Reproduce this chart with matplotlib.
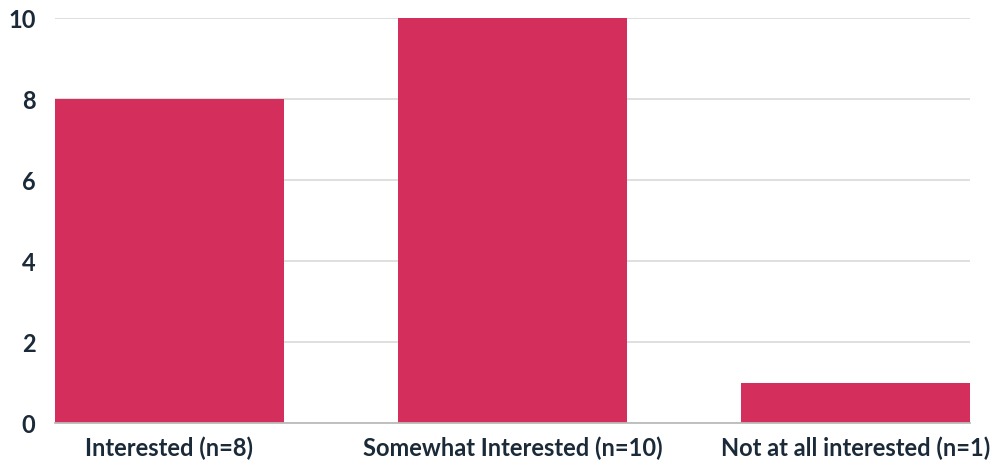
import matplotlib
matplotlib.use("Agg")
import matplotlib.pyplot as plt

categories = ["Interested (n=8)", "Somewhat Interested (n=10)", "Not at all interested (n=1)"]
counts = [8, 10, 1]
y_ticks = [0, 2, 4, 6, 8, 10]

BAR_COLOR = "#d42f5c"
TEXT_COLOR = "#1b2a38"
GRID_COLOR = "#dcdcdc"

plt.rcParams["font.family"] = ["Lato", "DejaVu Sans"]

fig = plt.figure(figsize=(9.97, 4.64), dpi=100)
ax = fig.add_axes([55 / 997, 40 / 464, 915 / 997, 405 / 464])

width = 0.667
x = list(range(len(categories)))
ax.bar(x, counts, width=width, color=BAR_COLOR, zorder=2)

ax.set_xlim(-width / 2, len(categories) - 1 + width / 2)
ax.set_ylim(0, 10)
ax.set_yticks(y_ticks)
ax.set_xticks(x)
ax.set_xticklabels(categories)
ax.yaxis.grid(True, color=GRID_COLOR, linewidth=1.3, zorder=0)
ax.set_axisbelow(True)

for side in ("top", "right", "left"):
    ax.spines[side].set_visible(False)
ax.spines["bottom"].set_color("#bbbbbb")
ax.spines["bottom"].set_linewidth(1.3)
ax.tick_params(axis="both", length=0, colors=TEXT_COLOR)
ax.tick_params(axis="x", labelsize=17, pad=9)
ax.tick_params(axis="y", labelsize=17, pad=14)
for lbl in ax.get_xticklabels() + ax.get_yticklabels():
    lbl.set_fontweight("bold")

fig.savefig("out.png", dpi=100)
